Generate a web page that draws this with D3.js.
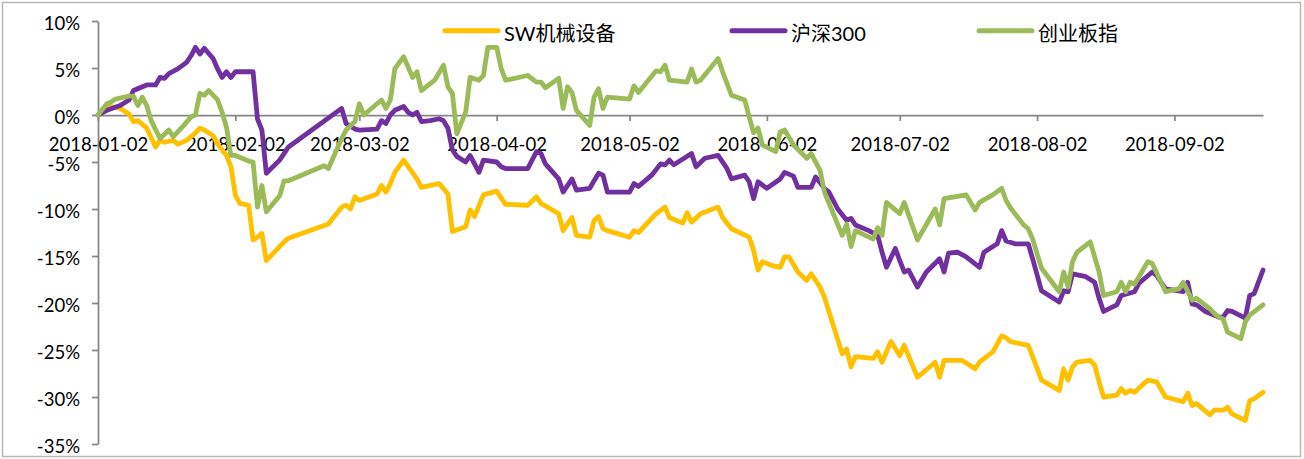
<!DOCTYPE html>
<html><head><meta charset="utf-8">
<script src="https://cdn.jsdelivr.net/npm/d3@7"></script>
<style>
html,body{margin:0;padding:0;background:#fff;}
svg{display:block;}
text{font-family:Lato,"Noto Sans CJK SC",sans-serif;fill:#000;}
</style></head><body>
<svg id="chart" width="1304" height="459"></svg>
<script>
// ---------- data ----------
const seriesNames = ["SW机械设备", "沪深300", "创业板指"];
const seriesColors = ["#FFC000", "#7030A0", "#9BBB59"];
const xTickDates = ["2018-01-02","2018-02-02","2018-03-02","2018-04-02","2018-05-02","2018-06-02","2018-07-02","2018-08-02","2018-09-02"];
const yTickValues = [-35,-30,-25,-20,-15,-10,-5,0,5,10];
const xDomain = ["2018-01-02","2018-09-22"];

// SW机械设备 (date MM-DD, % change)
const swData = [
["01-02",0],["01-05",0.9],["01-07",0.7],["01-09",0.1],["01-10",-0.7],["01-11",-0.6],["01-13",-1.4],["01-15",-3.4],["01-16",-2.7],["01-17",-2.9],
["01-19",-2.7],["01-20",-3.1],["01-22",-2.7],["01-24",-1.9],["01-25",-1.4],["01-26",-1.6],["01-28",-2.2],["01-29",-3.1],["01-31",-4.3],["02-01",-5.5],
["02-02",-8.5],["02-03",-9.4],["02-05",-9.6],["02-06",-13.3],["02-07",-13.0],["02-08",-12.6],["02-09",-15.5],["02-13",-13.5],["02-14",-13.1],["02-23",-11.6],
["02-26",-9.8],["02-27",-9.6],["02-28",-10.0],["03-01",-8.7],["03-02",-9.1],["03-06",-8.4],["03-07",-7.5],["03-08",-8.2],["03-09",-7.3],["03-10",-6.1],
["03-12",-4.8],["03-15",-6.8],["03-16",-7.7],["03-20",-7.3],["03-22",-8.4],["03-23",-12.4],["03-26",-11.9],["03-27",-10.1],["03-28",-10.8],["03-30",-8.5],
["04-02",-8.1],["04-04",-9.5],["04-09",-9.6],["04-11",-8.7],["04-12",-9.4],["04-16",-10.5],["04-17",-12.3],["04-19",-10.9],["04-20",-12.8],["04-23",-13.0],
["04-24",-11.2],["04-25",-10.8],["04-26",-12.1],["04-27",-12.3],["05-02",-13.0],["05-03",-12.3],["05-04",-12.5],["05-08",-10.5],["05-10",-9.8],["05-11",-10.9],
["05-14",-11.5],["05-15",-10.4],["05-16",-11.4],["05-18",-10.5],["05-22",-9.8],["05-23",-10.9],["05-25",-12.1],["05-29",-13.0],["05-30",-14.4],["05-31",-16.5],
["06-01",-15.6],["06-03",-16.0],["06-05",-16.2],["06-06",-15.1],["06-07",-15.1],["06-09",-16.7],["06-11",-17.6],["06-12",-16.9],["06-14",-18.3],["06-15",-19.4],
["06-19",-25.4],["06-20",-24.9],["06-21",-26.8],["06-22",-25.7],["06-26",-25.9],["06-27",-25.2],["06-28",-26.3],["06-30",-24.1],["07-02",-25.6],["07-03",-24.5],
["07-06",-27.9],["07-10",-26.3],["07-11",-27.9],["07-12",-26.1],["07-16",-26.1],["07-19",-27.0],["07-20",-26.3],["07-23",-25.2],["07-25",-23.5],["07-26",-23.7],
["07-27",-24.1],["07-31",-24.5],["08-01",-25.7],["08-03",-28.2],["08-07",-29.3],["08-08",-27.0],["08-09",-28.2],["08-10",-26.8],["08-11",-26.3],["08-14",-26.1],
["08-15",-26.6],["08-16",-28.4],["08-17",-30.0],["08-20",-29.8],["08-21",-29.1],["08-22",-29.6],["08-23",-29.3],["08-24",-29.5],["08-27",-28.2],["08-29",-28.4],
["08-31",-30.0],["09-04",-30.5],["09-05",-29.6],["09-06",-30.9],["09-07",-30.7],["09-10",-31.9],["09-11",-31.4],["09-13",-31.4],["09-14",-31.1],["09-15",-31.8],
["09-18",-32.5],["09-19",-30.4],["09-20",-30.2],["09-22",-29.5]
];

// 沪深300
const hsData = [
["01-02",0],["01-04",0.5],["01-07",1.0],["01-09",1.6],["01-10",2.6],["01-13",3.2],["01-15",3.2],["01-16",4.0],["01-17",3.9],["01-18",4.4],
["01-20",4.9],["01-22",5.6],["01-23",6.3],["01-24",7.2],["01-25",6.5],["01-26",7.1],["01-28",6.0],["01-29",4.9],["01-30",4.0],["01-31",4.6],
["02-01",4.0],["02-02",4.6],["02-06",4.6],["02-07",-0.4],["02-08",-1.6],["02-09",-6.2],["02-12",-4.8],["02-13",-4.1],["02-14",-3.4],["02-26",0.7],
["02-27",-0.9],["03-01",-1.5],["03-02",-1.6],["03-06",-1.5],["03-07",-0.6],["03-08",-0.9],["03-09",0.0],["03-10",0.5],["03-12",0.9],["03-13",0.3],
["03-14",0.0],["03-15",0.3],["03-16",-0.7],["03-18",-0.6],["03-20",-0.4],["03-21",-0.6],["03-22",-1.4],["03-23",-3.7],["03-24",-4.4],["03-26",-5.0],
["03-27",-4.3],["03-29",-6.1],["03-30",-4.8],["04-02",-5.0],["04-03",-5.5],["04-04",-5.7],["04-09",-5.7],["04-11",-3.9],["04-12",-4.1],["04-13",-5.2],
["04-16",-6.8],["04-17",-8.2],["04-19",-6.8],["04-20",-8.0],["04-23",-7.8],["04-25",-6.2],["04-26",-6.4],["04-27",-8.2],["05-02",-8.2],["05-03",-7.3],
["05-04",-7.6],["05-07",-6.4],["05-09",-5.2],["05-10",-5.3],["05-11",-4.8],["05-12",-5.3],["05-16",-4.1],["05-17",-5.5],["05-19",-4.6],["05-22",-4.3],
["05-24",-5.7],["05-25",-6.8],["05-28",-6.4],["05-29",-7.1],["05-30",-8.9],["05-31",-7.1],["06-02",-7.8],["06-05",-6.8],["06-06",-6.1],["06-08",-6.5],
["06-09",-7.7],["06-12",-7.7],["06-13",-6.6],["06-15",-7.8],["06-16",-8.2],["06-18",-10.0],["06-20",-11.2],["06-21",-11.0],["06-22",-11.7],["06-25",-12.3],
["06-27",-12.8],["06-28",-14.6],["06-29",-16.2],["07-01",-14.2],["07-02",-15.5],["07-03",-16.7],["07-04",-16.5],["07-06",-18.3],["07-08",-16.7],["07-11",-15.3],
["07-12",-16.7],["07-13",-14.7],["07-15",-14.6],["07-17",-15.1],["07-20",-16.2],["07-21",-14.6],["07-24",-13.7],["07-25",-12.3],["07-26",-13.4],["07-28",-13.7],
["07-31",-13.7],["08-01",-15.3],["08-03",-18.7],["08-07",-19.9],["08-08",-18.7],["08-09",-18.8],["08-10",-16.9],["08-13",-17.2],["08-15",-17.8],["08-16",-19.5],
["08-17",-20.9],["08-20",-20.2],["08-21",-19.2],["08-24",-18.8],["08-25",-17.9],["08-28",-16.7],["08-29",-17.1],["08-31",-18.5],["09-04",-18.8],["09-05",-17.8],
["09-06",-20.1],["09-07",-20.2],["09-09",-20.9],["09-12",-21.5],["09-13",-21.5],["09-14",-20.8],["09-15",-20.9],["09-18",-21.6],["09-19",-19.2],["09-20",-19.0],
["09-22",-16.5]
];

// 创业板指
const cyData = [
["01-02",0],["01-04",1.2],["01-05",1.4],["01-06",1.7],["01-09",2.0],["01-10",2.0],["01-11",1.0],["01-12",1.9],["01-13",1.0],["01-14",-0.6],
["01-16",-2.5],["01-18",-1.6],["01-19",-2.3],["01-21",-1.3],["01-23",-0.2],["01-24",0.0],["01-25",2.3],["01-26",2.1],["01-27",2.6],["01-29",1.6],
["01-30",0.3],["01-31",-1.3],["02-01",-4.3],["02-02",-4.3],["02-05",-4.9],["02-06",-5.0],["02-07",-9.8],["02-08",-7.5],["02-09",-10.3],["02-12",-8.6],
["02-13",-7.0],["02-14",-7.0],["02-22",-5.4],["02-23",-5.7],["02-26",-2.5],["02-27",-1.6],["03-01",-0.7],["03-02",1.2],["03-03",0.0],["03-07",1.6],
["03-08",0.7],["03-09",1.6],["03-10",4.9],["03-12",6.2],["03-13",5.1],["03-14",4.0],["03-15",4.6],["03-16",2.6],["03-19",3.7],["03-21",5.3],
["03-22",3.0],["03-23",2.3],["03-24",-2.0],["03-26",0.3],["03-27",4.0],["03-29",3.7],["03-30",4.2],["03-31",7.2],["04-02",7.2],["04-03",5.0],
["04-04",3.7],["04-09",4.2],["04-11",3.5],["04-12",3.5],["04-13",2.9],["04-16",3.9],["04-17",0.7],["04-18",3.0],["04-19",2.4],["04-20",0.5],
["04-23",-1.1],["04-24",1.9],["04-25",2.8],["04-26",0.7],["04-27",1.9],["05-02",1.7],["05-03",3.1],["05-04",2.4],["05-08",4.7],["05-09",4.6],
["05-10",5.3],["05-11",3.7],["05-15",3.5],["05-16",4.9],["05-17",3.5],["05-18",3.7],["05-22",6.0],["05-23",4.6],["05-25",2.1],["05-28",1.6],
["05-29",-0.2],["05-30",-1.9],["05-31",-1.4],["06-01",-3.2],["06-04",-3.9],["06-05",-1.8],["06-06",-1.6],["06-08",-3.2],["06-11",-4.6],["06-12",-4.1],
["06-14",-5.9],["06-15",-8.2],["06-19",-12.8],["06-20",-11.6],["06-21",-14.0],["06-22",-12.3],["06-26",-13.2],["06-27",-12.0],["06-28",-12.8],["06-29",-9.3],
["07-02",-10.5],["07-03",-9.3],["07-06",-13.3],["07-10",-10.0],["07-11",-11.7],["07-12",-8.9],["07-17",-8.5],["07-19",-10.1],["07-20",-9.3],["07-23",-8.5],
["07-25",-7.8],["07-26",-9.1],["07-27",-9.9],["07-30",-11.7],["07-31",-12.1],["08-01",-13.2],["08-03",-16.3],["08-07",-18.8],["08-08",-16.7],["08-09",-18.3],
["08-10",-15.6],["08-11",-14.6],["08-14",-13.5],["08-16",-16.7],["08-17",-19.2],["08-20",-18.8],["08-21",-17.8],["08-22",-18.8],["08-23",-17.8],["08-24",-18.0],
["08-27",-15.6],["08-28",-15.8],["08-31",-18.8],["09-03",-18.5],["09-04",-17.8],["09-06",-19.7],["09-07",-19.5],["09-10",-20.6],["09-11",-21.1],["09-12",-21.5],
["09-13",-21.7],["09-14",-23.1],["09-17",-23.8],["09-18",-22.0],["09-19",-21.3],["09-22",-20.2]
];

// ---------- drawing ----------
const parse = d3.timeParse("%Y-%m-%d");
const svg = d3.select("#chart");

// chart-area border
svg.append("rect").attr("x",2.5).attr("y",2.5).attr("width",1298).attr("height",454)
  .attr("fill","#fff").attr("stroke","#b8b8b8").attr("stroke-width",1.5);

const x = d3.scaleTime().domain(xDomain.map(parse)).range([98, 1263]);
const y = d3.scaleLinear().domain([-35, 10]).range([444, 21]);

const axisColor = "#868686";

// y axis
const yAxis = svg.append("g").attr("transform","translate(98,0)")
  .call(d3.axisLeft(y).tickValues(yTickValues).tickFormat(d => d + "%").tickSize(6).tickSizeOuter(0));
yAxis.select(".domain").attr("stroke",axisColor).attr("stroke-width",1.75);
yAxis.selectAll(".tick line").attr("stroke",axisColor).attr("stroke-width",1.75);
yAxis.selectAll(".tick text").attr("x",-18).attr("dy",0).attr("y",8)
  .style("font-size","18.5px").attr("fill","#000");

// x axis at 0%
const xAxis = svg.append("g").attr("transform",`translate(0,${y(0)})`)
  .call(d3.axisBottom(x).tickValues(xTickDates.map(parse)).tickFormat(d3.timeFormat("%Y-%m-%d")).tickSize(6).tickSizeOuter(0));
xAxis.select(".domain").attr("stroke",axisColor).attr("stroke-width",1.75);
xAxis.selectAll(".tick line").attr("stroke",axisColor).attr("stroke-width",1.75);
xAxis.selectAll(".tick text").attr("y",35.5).attr("dy",0)
  .style("font-size","18.5px").attr("fill","#000");

// series
const line = d3.line().x(d => x(parse("2018-" + d[0]))).y(d => y(d[1]));
const allSeries = [swData, hsData, cyData];
allSeries.forEach((data, i) => {
  svg.append("path").datum(data).attr("d", line)
    .attr("fill","none").attr("stroke",seriesColors[i]).attr("stroke-width",4.8)
    .attr("stroke-linejoin","round").attr("stroke-linecap","round");
});

// legend
const legendX = [443, 730, 977];
const legend = svg.append("g");
seriesNames.forEach((name, i) => {
  legend.append("line").attr("x1",legendX[i]+2).attr("x2",legendX[i]+55).attr("y1",30.7).attr("y2",30.7)
    .attr("stroke",seriesColors[i]).attr("stroke-width",5).attr("stroke-linecap","round");
  legend.append("text").attr("x",legendX[i]+61).attr("y",40.5).text(name)
    .style("font-size","20px").attr("fill","#000");
});
</script>
</body></html>
